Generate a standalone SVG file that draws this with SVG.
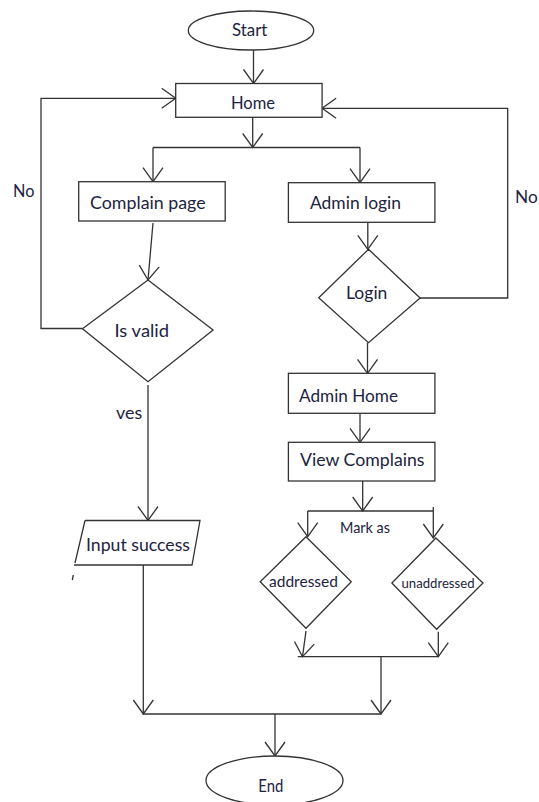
<svg xmlns="http://www.w3.org/2000/svg" width="539" height="802" viewBox="0 0 539 802">
<style>
.shape{fill:#fff;stroke:#333;stroke-width:1.3}
.con{fill:none;stroke:#333;stroke-width:1.3}
text{font-family:"Lato","Open Sans",sans-serif;font-size:18px;fill:#1c2340}
.s16{font-size:16px}.s15{font-size:15px}.s13{font-size:13px}.s17{font-size:17px}
</style>
<defs>
<marker id="arr" markerUnits="userSpaceOnUse" viewBox="-15 -11 16 22" refX="0" refY="0" markerWidth="16" markerHeight="22" orient="auto">
<path d="M-14,-10 L0,0 L-14,10" fill="none" stroke="#333" stroke-width="1.3"/>
</marker>
</defs>
<rect width="539" height="802" fill="#fff"/>
<g id="connectors">
<path class="con" d="M253.5,50 V83.5" marker-end="url(#arr)"/>
<path class="con" d="M252.7,117.3 V147.5" marker-end="url(#arr)"/>
<path class="con" d="M153,147.5 H360"/>
<path class="con" d="M153,147.5 V181.7" marker-end="url(#arr)"/>
<path class="con" d="M360,147.5 V182.7" marker-end="url(#arr)"/>
<path class="con" d="M153,223 L148,280" marker-end="url(#arr)"/>
<path class="con" d="M82.5,328.5 H41 V98.3 H175.7" marker-end="url(#arr)"/>
<path class="con" d="M148,385 V520.5" marker-end="url(#arr)"/>
<path class="con" d="M367.8,222.3 V249.3" marker-end="url(#arr)"/>
<path class="con" d="M420,298 H507.7 V108.3 H322.1" marker-end="url(#arr)"/>
<path class="con" d="M367.5,342.7 V373.3" marker-end="url(#arr)"/>
<path class="con" d="M360,413.3 V442.3" marker-end="url(#arr)"/>
<path class="con" d="M362.7,481 V511" marker-end="url(#arr)"/>
<path class="con" d="M307.7,511 H433"/>
<path class="con" d="M307.7,511 V536.7" marker-end="url(#arr)"/>
<path class="con" d="M433.3,507 V538" marker-end="url(#arr)"/>
<path class="con" d="M306,631 L302.5,656.7" marker-end="url(#arr)"/>
<path class="con" d="M297.7,656.7 H438.3"/>
<path class="con" d="M438.3,631.7 V656.7" marker-end="url(#arr)"/>
<path class="con" d="M381,656.7 V714" marker-end="url(#arr)"/>
<path class="con" d="M143.3,565 V714" marker-end="url(#arr)"/>
<path class="con" d="M142.7,714 H381"/>
<path class="con" d="M275,714 V756" marker-end="url(#arr)"/>
<text x="13" y="197" textLength="21.4" lengthAdjust="spacingAndGlyphs">No</text>
<text x="515" y="203" textLength="22.7" lengthAdjust="spacingAndGlyphs">No</text>
<text x="116" y="419" textLength="26.3" lengthAdjust="spacingAndGlyphs">ves</text>
<text class="s16" x="340" y="533" textLength="50" lengthAdjust="spacingAndGlyphs">Mark as</text>
</g>
<g id="start">
<ellipse class="shape" cx="251" cy="30.5" rx="62.7" ry="19.5"/>
<text x="232" y="35.7" textLength="35.4" lengthAdjust="spacingAndGlyphs">Start</text>
</g>
<g id="home">
<rect class="shape" x="175.7" y="83.5" width="146.4" height="33.8"/>
<text x="231" y="109.3" textLength="44" lengthAdjust="spacingAndGlyphs">Home</text>
</g>
<g id="complain-page">
<rect class="shape" x="78.7" y="181.7" width="146.5" height="39.3"/>
<text x="90" y="209" textLength="115.6" lengthAdjust="spacingAndGlyphs">Complain page</text>
</g>
<g id="admin-login">
<rect class="shape" x="288.4" y="182.7" width="146.5" height="39.6"/>
<text x="310" y="209" textLength="91" lengthAdjust="spacingAndGlyphs">Admin login</text>
</g>
<g id="is-valid">
<polygon class="shape" points="148,280 213.1,330 148,381.7 82.5,328.7"/>
<text x="114.5" y="336.7" textLength="54.6" lengthAdjust="spacingAndGlyphs">Is valid</text>
</g>
<g id="login">
<polygon class="shape" points="368.5,249.3 420.1,298 368.5,342.7 318.7,297.7"/>
<text x="346" y="298.5" textLength="41.4" lengthAdjust="spacingAndGlyphs">Login</text>
</g>
<g id="admin-home">
<rect class="shape" x="288.4" y="373.3" width="146.5" height="40"/>
<text x="299" y="401.5" textLength="99" lengthAdjust="spacingAndGlyphs">Admin Home</text>
</g>
<g id="view-complains">
<rect class="shape" x="288.4" y="442.3" width="146.5" height="38.7"/>
<text x="300" y="465.7" textLength="124.5" lengthAdjust="spacingAndGlyphs">View Complains</text>
</g>
<g id="input-success">
<path class="shape" d="M85,520.5 L200,520.5 L192,565 L74,565 M75,563 L85,520.5"/>
<path class="con" d="M73.3,575 L72.3,580"/>
<text class="s17" x="86" y="550.7" textLength="104" lengthAdjust="spacingAndGlyphs">Input success</text>
</g>
<g id="addressed">
<polygon class="shape" points="306,536.7 351.3,581.7 306,628.3 260.2,581.7"/>
<text class="s15" x="269" y="586.7" textLength="69" lengthAdjust="spacingAndGlyphs">addressed</text>
</g>
<g id="unaddressed">
<polygon class="shape" points="435.9,538 483,583 436.6,629.3 391.9,583"/>
<text class="s13" x="401.5" y="587.7" textLength="73" lengthAdjust="spacingAndGlyphs">unaddressed</text>
</g>
<g id="end">
<ellipse class="shape" cx="274.5" cy="780.5" rx="68.5" ry="24.5"/>
<text x="258.3" y="791.7" textLength="25" lengthAdjust="spacingAndGlyphs">End</text>
</g>
</svg>
